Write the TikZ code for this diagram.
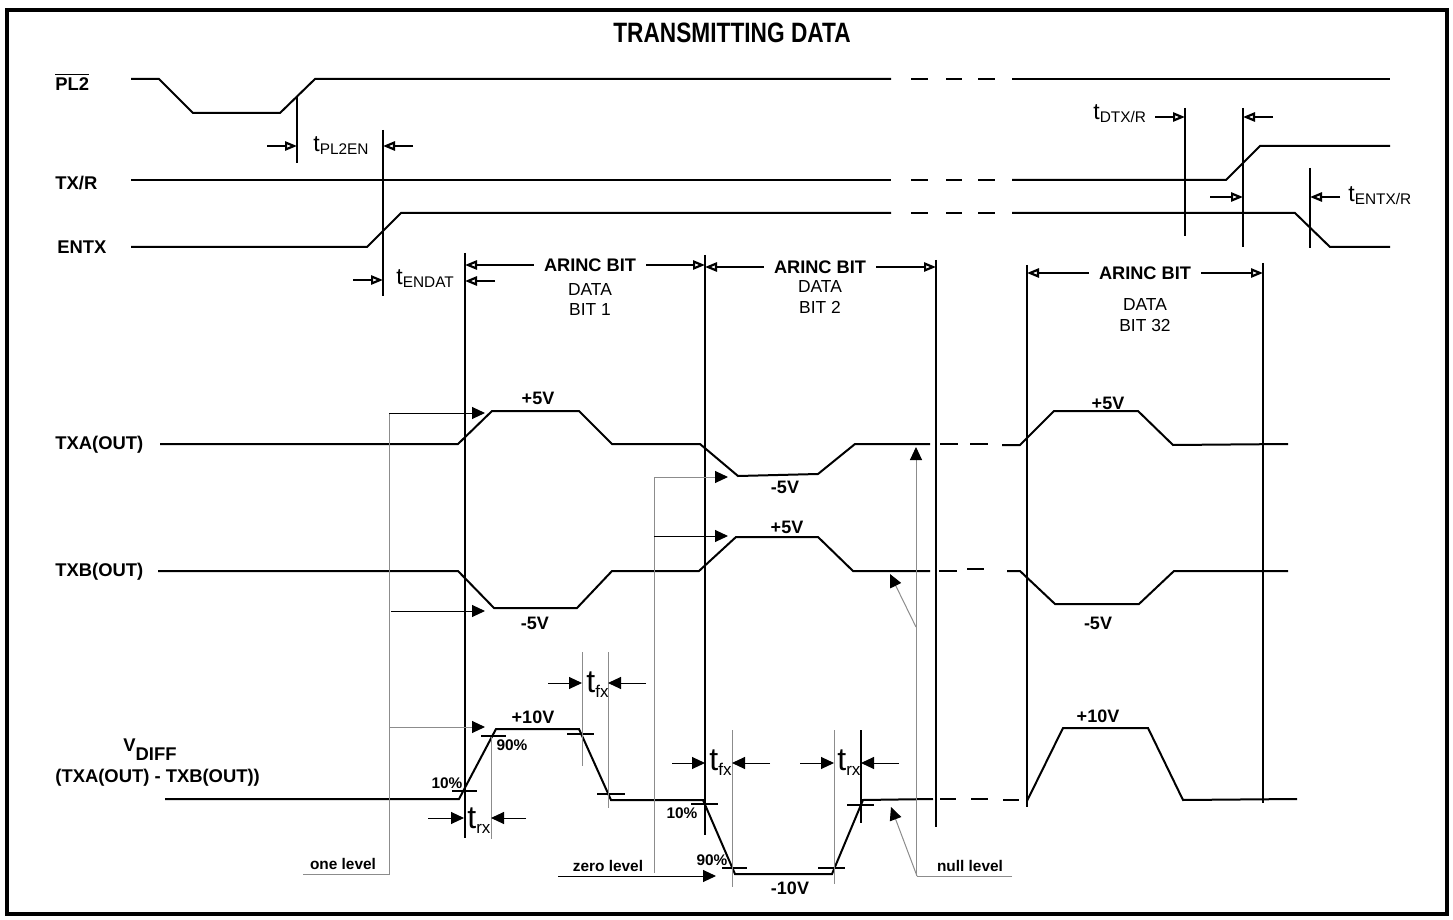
\documentclass[tikz,border=0pt]{standalone}
\usepackage{fontspec}
\setmainfont{Liberation Sans}
\usetikzlibrary{arrows.meta}
\newcommand{\fsz}[1]{\fontsize{#1}{#1}\selectfont}
\newcommand{\tlab}[1]{{\fsz{11.5}t}\raisebox{-1.4pt}{\fsz{7.7}#1}}
\newcommand{\Tlab}[1]{{\fsz{16}t}\raisebox{-2.5pt}{\fsz{8.5}#1}}
\begin{document}
\begin{tikzpicture}[x=0.5pt,y=-0.5pt,
  sig/.style={line width=1pt,line join=miter},
  vline/.style={line width=1pt},
  gl/.style={line width=0.5pt,draw=black!45},
  tk/.style={line width=0.9pt},
  oarr/.style={line width=0.8pt,-{Triangle[open,length=6pt,width=4.6pt,line width=1.1pt]}},
  farr/.style={line width=0.5pt,-{Triangle[length=6.5pt,width=6pt]}},
  garr/.style={line width=0.5pt,draw=black!45,-{Triangle[length=6.5pt,width=6pt,color=black]}},
  lab/.style={font=\fsz{9.2}\bfseries,anchor=west,inner sep=0pt},
  blab/.style={font=\fsz{9.1}\bfseries,inner sep=0pt},
  dlab/.style={font=\fsz{8.7},inner sep=0pt},
  vlab/.style={font=\fsz{9}\bfseries,inner sep=0pt},
  plab/.style={font=\fsz{7.7}\bfseries,inner sep=0pt},
  tl/.style={anchor=base west,inner sep=0pt}]
\useasboundingbox (0,0) rectangle (1453,920);
\draw[line width=2pt] (7,10) rectangle (1447,914);

% title
\node[inner sep=0pt] (title) at (732,33) {\scalebox{0.81}[1]{\fsz{14}\bfseries TRANSMITTING DATA}};

% signal labels
\node[lab] (lpl2) at (55,82) {$\overline{\hbox{PL2}}$};
\node[lab] (ltxr) at (55,183) {TX/R};
\node[lab] (lentx) at (57,247) {ENTX};
\node[lab] (ltxa) at (55,445) {TXA(OUT)};
\node[lab] (ltxb) at (55,572) {TXB(OUT)};
\node[lab] (lv) at (123,750) {V\raisebox{-4.5pt}{DIFF}};
\node[lab] (lvd) at (55,778) {(TXA(OUT) - TXB(OUT))};

% PL2
\draw[sig] (131,79) -- (159,79) -- (193,113) -- (280,113) -- (315,79) -- (891,79);
\draw[sig] (911,79)--(928,79) (946,79)--(962,79) (978,79)--(995,79);
\draw[sig] (1012,79) -- (1390,79);
% TX/R
\draw[sig] (131,180) -- (891,180);
\draw[sig] (911,180)--(928,180) (946,180)--(962,180) (978,180)--(995,180);
\draw[sig] (1012,180) -- (1226,180) -- (1260,146) -- (1390,146);
% ENTX
\draw[sig] (131,247) -- (367,247) -- (401,213) -- (891,213);
\draw[sig] (911,213)--(928,213) (946,213)--(962,213) (978,213)--(995,213);
\draw[sig] (1012,213) -- (1295,213) -- (1330,247) -- (1390,247);

% tPL2EN
\draw[vline] (297,96) -- (297,163);
\draw[vline] (383,130) -- (383,296);
\draw[oarr] (267,146) -- (297,146);
\draw[oarr] (413,146) -- (383,146);
\node[tl] (tpl2en) at (313,152) {\tlab{PL2EN}};
% tENDAT
\draw[oarr] (353,280) -- (383,280);
\draw[oarr] (495,281) -- (465,281);
\node[tl] (tendat) at (396,285) {\tlab{ENDAT}};
% tDTX/R and tENTX/R
\draw[vline] (1185,108) -- (1185,236);
\draw[vline] (1243,108) -- (1243,247);
\draw[vline] (1310,168) -- (1310,248);
\node[tl] (tdtxr) at (1093,120) {\tlab{DTX/R}};
\draw[oarr] (1155,117) -- (1185,117);
\draw[oarr] (1273,117) -- (1243,117);
\draw[oarr] (1210,197) -- (1243,197);
\draw[oarr] (1340,197) -- (1310,197);
\node[tl] (tentxr) at (1348,202) {\tlab{ENTX/R}};

% ARINC bit boundaries
\coordinate (b1t) at (465,253); \coordinate (b1b) at (465,838);
\coordinate (b2t) at (705,255); \coordinate (b2b) at (705,835);
\coordinate (b3t) at (936,260); \coordinate (b3b) at (936,827);
\coordinate (b4t) at (1027,265); \coordinate (b4b) at (1027,807);
\coordinate (b5t) at (1263,263); \coordinate (b5b) at (1263,803);
\draw[vline] (b1t) -- (b1b);
\draw[vline] (b2t) -- (b2b);
\draw[vline] (b3t) -- (b3b);
\draw[vline] (b4t) -- (b4b);
\draw[vline] (b5t) -- (b5b);

\node[blab] (ab1) at (590,265) {ARINC BIT};
\node[blab] (ab2) at (820,267) {ARINC BIT};
\node[blab] (ab3) at (1145,273) {ARINC BIT};
\draw[oarr] ([xshift=-5pt]ab1.west) -- (b1t |- ab1);
\draw[oarr] ([xshift=5pt]ab1.east) -- (b2t |- ab1);
\draw[oarr] ([xshift=-5pt]ab2.west) -- (b2t |- ab2);
\draw[oarr] ([xshift=5pt]ab2.east) -- (b3t |- ab2);
\draw[oarr] ([xshift=-5pt]ab3.west) -- (b4t |- ab3);
\draw[oarr] ([xshift=5pt]ab3.east) -- (b5t |- ab3);
\node[dlab] (d1a) at (590,290) {DATA};
\node[dlab] (d1b) at (590,310) {BIT 1};
\node[dlab] (d2a) at (820,287) {DATA};
\node[dlab] (d2b) at (820,307) {BIT 2};
\node[dlab] (d3a) at (1145,305) {DATA};
\node[dlab] (d3b) at (1145,326) {BIT 32};

% TXA
\draw[sig] (160,444) -- (458,444) -- (492,411) -- (579,411) -- (612,444) -- (700,444) -- (738,476) -- (818,474) -- (855,444) -- (930,444);
\draw[sig] (940,444)--(958,444) (970,444)--(988,444);
\draw[sig] (1002,445) -- (1020,445) -- (1054,411) -- (1138,411) -- (1173,445) -- (1288,444);
% TXB
\draw[sig] (158,571) -- (458,571) -- (494,608) -- (577,608) -- (612,571) -- (699,571) -- (736,537) -- (818,537) -- (853,571) -- (930,571);
\draw[sig] (939,571)--(957,571) (967,569)--(984,569);
\draw[sig] (1007,571) -- (1020,571) -- (1055,604) -- (1139,604) -- (1174,571) -- (1288,571);
% VDIFF
\draw[sig] (165,799) -- (459,799) -- (496,729) -- (579,729) -- (611,800) -- (703,800) -- (735,874) -- (832,874) -- (863,800) -- (933,799);
\draw[sig] (940,799)--(956,799) (971,799)--(988,799) (1003,800)--(1019,800);
\draw[sig] (1027,801) -- (1063,728) -- (1148,728) -- (1183,800) -- (1297,799);

% voltage labels
\node[vlab] (v1) at (538,398) {+5V};
\node[vlab] (v2) at (785,487) {-5V};
\node[vlab] (v3) at (787,527) {+5V};
\node[vlab] (v4) at (535,623) {-5V};
\node[vlab] (v5) at (1108,403) {+5V};
\node[vlab] (v6) at (1098,623) {-5V};
\node[vlab] (v7) at (533,717) {+10V};
\node[vlab] (v8) at (790,888) {-10V};
\node[vlab] (v9) at (1098,716) {+10V};
\node[plab] (p1) at (447,783) {10\%};
\node[plab] (p2) at (512,745) {90\%};
\node[plab] (p3) at (682,813) {10\%};
\node[plab] (p4) at (712,860) {90\%};

% 10/90 ticks
\draw[tk] (452,791)--(477,791) (481,736)--(506,736);
\draw[tk] (567,734)--(594,734) (597,794)--(625,794);
\draw[tk] (691,804)--(718,804) (722,868)--(747,868);
\draw[tk] (818,868)--(845,868) (847,805)--(874,805);

% rise/fall time markers
\draw[gl] (491,737) -- (491,839);
\draw[gl] (582,652) -- (582,766);
\draw[gl] (608,652) -- (608,808);
\draw[gl] (732,730) -- (732,887);
\draw[gl] (834,730) -- (834,884);
\draw[line width=0.7pt] (861,730) -- (861,823);
\draw[farr] (428,818) -- (464,818);
\draw[farr] (526,818) -- (491,818);
\draw[farr] (548,683) -- (582,683);
\draw[farr] (646,683) -- (608,683);
\draw[farr] (672,763) -- (705,763);
\draw[farr] (770,763) -- (732,763);
\draw[farr] (800,763) -- (834,763);
\draw[farr] (899,763) -- (861,763);
\node[tl] (trx1) at (467,828) {\Tlab{rx}};
\node[tl] (tfx1) at (586,692) {\Tlab{fx}};
\node[tl] (tfx2) at (709,770) {\Tlab{fx}};
\node[tl] (trx2) at (837,770) {\Tlab{rx}};

% one level
\draw[gl] (389,413) -- (389,874) -- (303,874);
\draw[farr] (389,413) -- (485,413);
\draw[farr] (391,611) -- (485,611);
\draw[garr] (389,727) -- (485,727);
\node[plab] (lone) at (343,864) {one level};
% zero level
\draw[gl] (654,477) -- (654,873);
\draw[garr] (654,477) -- (728,477);
\draw[farr] (654,536) -- (728,536);
\draw[farr] (558,876) -- (716,876);
\node[plab] (lzero) at (608,866) {zero level};
% null level
\draw[gl] (1012,876) -- (917,876);
\draw[garr] (916,876) -- (916,447);
\draw[garr] (916,627) -- (890,574);
\draw[garr] (917,876) -- (891,807);
\node[plab] (lnull) at (970,866) {null level};
\end{tikzpicture}
\end{document}
